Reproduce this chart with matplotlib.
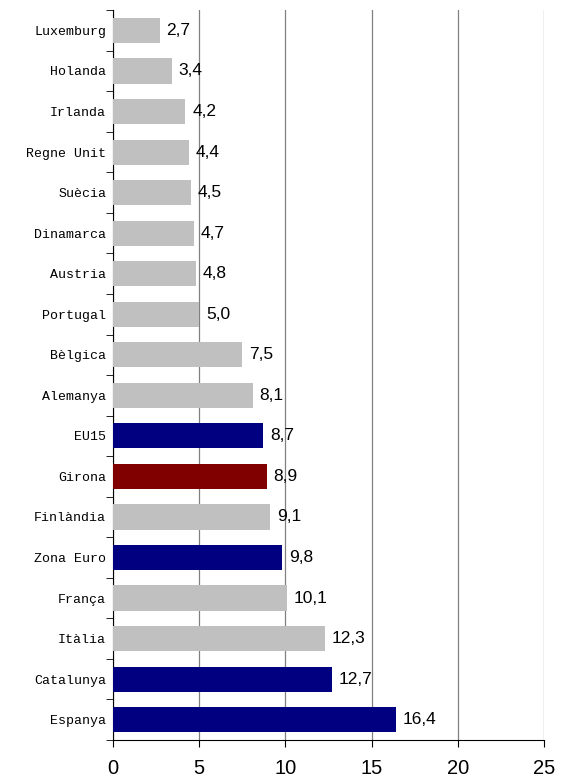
import matplotlib.pyplot as plt
import numpy as np

countries = ['Luxemburg', 'Holanda', 'Irlanda', 'Regne Unit', 'Suècia',
             'Dinamarca', 'Austria', 'Portugal', 'Bèlgica', 'Alemanya',
             'EU15', 'Girona', 'Finlàndia', 'Zona Euro', 'França',
             'Itàlia', 'Catalunya', 'Espanya']
values = [2.7, 3.4, 4.2, 4.4, 4.5, 4.7, 4.8, 5.0, 7.5, 8.1,
          8.7, 8.9, 9.1, 9.8, 10.1, 12.3, 12.7, 16.4]
groups = ['c', 'c', 'c', 'c', 'c', 'c', 'c', 'c', 'c', 'c',
          'agg', 'girona', 'c', 'agg', 'c', 'c', 'agg', 'agg']

color_map = {'c': '#C0C0C0', 'agg': '#000080', 'girona': '#800000'}
colors = [color_map[g] for g in groups]

fig = plt.figure(figsize=(5.68, 7.83), dpi=100)
ax = fig.add_axes([0.199, 0.055, 0.759, 0.932])

y = np.arange(len(countries))
ax.barh(y, values, height=0.62, color=colors, zorder=3)

for yi, v in zip(y, values):
    ax.text(v + 0.4, yi, f'{v:.1f}'.replace('.', ','), va='center', ha='left',
            fontsize=12.5, family='Liberation Sans', zorder=4)

ax.set_xlim(0, 25)
ax.set_ylim(len(countries) - 0.5, -0.5)
ax.set_xticks(range(0, 26, 5))
ax.set_xticklabels([str(t) for t in range(0, 26, 5)], fontsize=14.5, family='Liberation Sans')
ax.tick_params(axis='x', direction='out', length=5, pad=9)

ax.set_yticks(y)
ax.set_yticklabels(countries, family='Liberation Mono', fontsize=9.5)
ax.tick_params(axis='y', which='major', length=0, pad=5)
ax.set_yticks(np.arange(-0.5, len(countries), 1), minor=True)
ax.tick_params(axis='y', which='minor', length=5, direction='out')

ax.xaxis.grid(True, color='#808080', linewidth=0.9, zorder=0)
ax.spines['top'].set_visible(False)
ax.spines['right'].set_visible(False)

plt.savefig('out.png', dpi=100)
